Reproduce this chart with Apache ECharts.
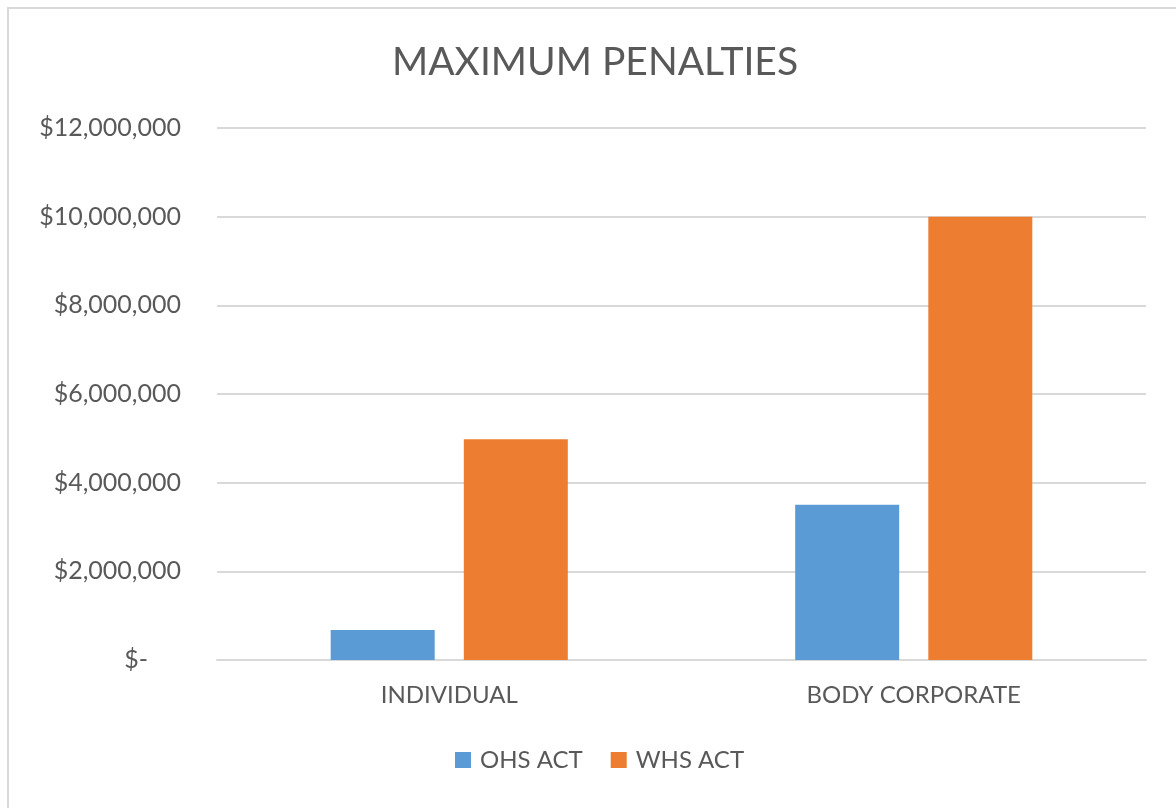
<!DOCTYPE html>
<html><head><meta charset="utf-8">
<script src="https://cdn.jsdelivr.net/npm/echarts@6/dist/echarts.min.js"></script>
<style>
html,body{margin:0;padding:0;background:#fff;}
#frame{position:absolute;left:7px;top:7px;width:1180px;height:820px;border:2px solid #d9d9d9;box-sizing:border-box;}
#c{position:absolute;left:0;top:0;width:1176px;height:808px;}
</style></head>
<body><div id="frame"></div><div id="c"></div>
<script>
const categories = ['INDIVIDUAL', 'BODY CORPORATE'];
const seriesNames = ['OHS ACT', 'WHS ACT'];
const ohsValues = [676000, 3500000];
const whsValues = [4980000, 10000000];
const yTicks = [0, 2000000, 4000000, 6000000, 8000000, 10000000, 12000000];
const titleText = 'MAXIMUM PENALTIES';

const font = 'Lato, "Open Sans", sans-serif';
const chart = echarts.init(document.getElementById('c'));
chart.setOption({
  animation: false,
  title: {text: titleText, left: 387, top: 38, textStyle: {fontFamily: font, fontWeight: 'normal', fontSize: 39, color: '#595959'}},
  legend: {bottom: 31, left: 450, itemWidth: 16, itemHeight: 16, itemGap: 28, icon: 'rect',
    textStyle: {fontFamily: font, fontSize: 24, color: '#595959', padding: [0, 0, 0, 4]}},
  grid: {left: 217, right: 30, top: 128, bottom: 148},
  xAxis: {type: 'category', data: categories,
    axisLine: {lineStyle: {color: '#d9d9d9', width: 2}}, axisTick: {show: false},
    axisLabel: {fontFamily: font, fontSize: 24, color: '#595959', margin: 23}},
  yAxis: {type: 'value', min: yTicks[0], max: yTicks[yTicks.length - 1], interval: 2000000,
    axisLine: {show: false}, axisTick: {show: false},
    splitLine: {lineStyle: {color: '#d9d9d9', width: 2}},
    axisLabel: {fontFamily: font, fontSize: 25, color: '#595959', margin: 36,
      formatter: v => v === 0 ? '{z|$-}' : '$' + v.toLocaleString('en-US'),
      rich: {z: {fontFamily: font, fontSize: 25, color: '#595959', padding: [0, 33, 0, 0]}}}},
  series: [
    {name: seriesNames[0], type: 'bar', data: ohsValues, barWidth: 104, barGap: '28%',
      itemStyle: {color: '#5b9bd5'}},
    {name: seriesNames[1], type: 'bar', data: whsValues, barWidth: 104,
      itemStyle: {color: '#ed7d31'}}
  ]
});
</script></body></html>
